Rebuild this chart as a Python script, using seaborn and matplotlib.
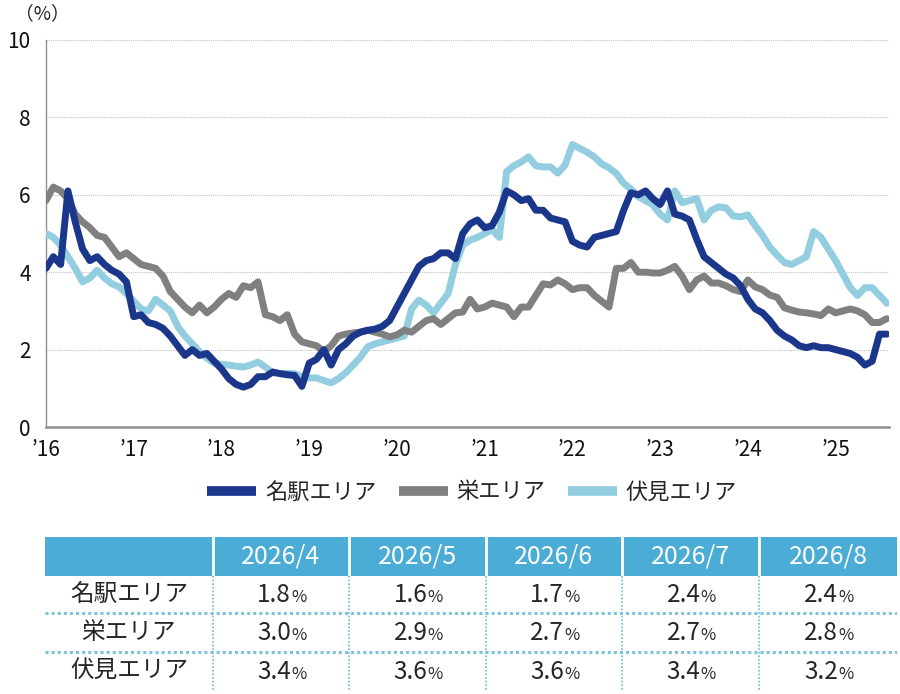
import numpy as np
import pandas as pd
import seaborn as sns
import matplotlib.pyplot as plt
from matplotlib.patches import Rectangle
from matplotlib.lines import Line2D

# エリア名と色
areas = ['名駅エリア', '栄エリア', '伏見エリア']
colors = ['#1B378C', '#808080', '#92CDE0']

# 月次の空室率 (2016年1月〜), 単位 %
meieki = [4.1, 4.4, 4.2, 6.1, 5.3, 4.6, 4.3, 4.4, 4.2, 4.05,
          3.95, 3.75, 2.85, 2.9, 2.7, 2.65, 2.55, 2.35, 2.1, 1.85,
          2.0, 1.85, 1.9, 1.7, 1.5, 1.25, 1.1, 1.03, 1.1, 1.3,
          1.3, 1.42, 1.38, 1.35, 1.33, 1.05, 1.65, 1.75, 2.0, 1.6,
          2.0, 2.15, 2.35, 2.45, 2.5, 2.53, 2.6, 2.75, 3.1, 3.45,
          3.8, 4.15, 4.3, 4.35, 4.5, 4.5, 4.35, 5.0, 5.25, 5.35,
          5.15, 5.2, 5.55, 6.1, 6.0, 5.85, 5.9, 5.6, 5.6, 5.4,
          5.35, 5.3, 4.8, 4.7, 4.65, 4.9, 4.95, 5.0, 5.05, 5.6,
          6.05, 6.0, 6.1, 5.9, 5.75, 6.1, 5.5, 5.45, 5.35, 4.85,
          4.4, 4.25, 4.1, 3.95, 3.85, 3.65, 3.3, 3.05, 2.95, 2.75,
          2.5, 2.35, 2.25, 2.1, 2.05, 2.1, 2.05, 2.05, 2.0, 1.95,
          1.9, 1.8, 1.6, 1.7, 2.4, 2.4]
sakae = [5.85, 6.2, 6.1, 5.9, 5.5, 5.3, 5.15, 4.95, 4.9, 4.65,
         4.4, 4.5, 4.35, 4.2, 4.15, 4.1, 3.9, 3.5, 3.3, 3.1,
         2.95, 3.15, 2.95, 3.1, 3.3, 3.45, 3.35, 3.65, 3.6, 3.75,
         2.9, 2.85, 2.75, 2.9, 2.4, 2.2, 2.15, 2.1, 1.95, 2.1,
         2.35, 2.4, 2.43, 2.45, 2.5, 2.45, 2.4, 2.33, 2.38, 2.5,
         2.45, 2.6, 2.75, 2.8, 2.65, 2.8, 2.95, 2.97, 3.3, 3.05,
         3.1, 3.2, 3.15, 3.1, 2.85, 3.1, 3.1, 3.4, 3.7, 3.67,
         3.8, 3.7, 3.55, 3.6, 3.6, 3.4, 3.25, 3.1, 4.1, 4.1,
         4.25, 4.0, 4.0, 3.98, 3.98, 4.05, 4.15, 3.9, 3.55, 3.8,
         3.9, 3.72, 3.72, 3.65, 3.55, 3.5, 3.8, 3.62, 3.55, 3.41,
         3.35, 3.08, 3.02, 2.97, 2.95, 2.92, 2.88, 3.05, 2.95, 3.0,
         3.05, 3.0, 2.9, 2.7, 2.7, 2.8]
fushimi = [5.0, 4.9, 4.7, 4.4, 4.1, 3.75, 3.85, 4.05, 3.85, 3.7,
           3.62, 3.45, 3.25, 3.05, 3.0, 3.3, 3.15, 3.0, 2.6, 2.35,
           2.15, 1.95, 1.78, 1.65, 1.62, 1.6, 1.57, 1.55, 1.6, 1.68,
           1.55, 1.4, 1.38, 1.38, 1.38, 1.3, 1.27, 1.27, 1.2, 1.14,
           1.25, 1.4, 1.6, 1.8, 2.07, 2.15, 2.2, 2.25, 2.3, 2.35,
           3.05, 3.28, 3.15, 2.95, 3.2, 3.45, 4.2, 4.7, 4.83, 4.9,
           5.0, 5.1, 4.9, 6.6, 6.75, 6.85, 6.98, 6.75, 6.72, 6.72,
           6.56, 6.77, 7.3, 7.2, 7.1, 6.98, 6.8, 6.7, 6.55, 6.3,
           6.15, 5.95, 5.85, 5.74, 5.5, 5.35, 6.1, 5.8, 5.85, 5.9,
           5.35, 5.6, 5.69, 5.66, 5.45, 5.43, 5.48, 5.2, 4.95, 4.65,
           4.44, 4.25, 4.2, 4.3, 4.4, 5.05, 4.9, 4.6, 4.3, 3.95,
           3.6, 3.4, 3.6, 3.6, 3.4, 3.2]

year_labels = ['’16', '’17', '’18', '’19', '’20', '’21', '’22', '’23', '’24', '’25']
table_months = ['2026/4', '2026/5', '2026/6', '2026/7', '2026/8']

#スタイル
sns.set_theme(style='white')
plt.rcParams['font.family'] = ['Noto Sans CJK JP', 'DejaVu Sans']

df = pd.DataFrame({'month': np.arange(len(meieki)),
                   '名駅エリア': meieki, '栄エリア': sakae, '伏見エリア': fushimi})
long = df.melt(id_vars='month', var_name='area', value_name='rate')

fig = plt.figure(figsize=(9, 6.94), dpi=100)
ax = fig.add_axes([46/900, 1-427/694, (889-46)/900, (427-40)/694])

sns.lineplot(data=long, x='month', y='rate', hue='area', hue_order=areas,
             palette=colors, linewidth=5.0, legend=False, ax=ax)
for ln, z in zip(ax.lines, [5, 4, 3]):
    ln.set_zorder(z)
    ln.set_solid_capstyle('round')
    ln.set_solid_joinstyle('round')

ax.set_xlim(0, 115.3)
ax.set_ylim(0, 10)
ax.set_yticks(range(0, 11, 2))
ax.set_xticks(range(0, 12 * len(year_labels), 12))
ax.set_xticklabels(year_labels)
ax.set_xlabel('')
ax.set_ylabel('')
ax.grid(axis='y', color='#C0C0C0', linestyle=(0, (1, 1)), linewidth=0.8)
for s in ['top', 'right']:
    ax.spines[s].set_visible(False)
ax.spines['left'].set_color('#909090')
ax.spines['left'].set_linewidth(1.0)
ax.spines['bottom'].set_color('#909090')
ax.spines['bottom'].set_linewidth(1.8)
ax.tick_params(axis='both', length=0, labelsize=15, colors='#111111')
ax.tick_params(axis='y', pad=11)
ax.tick_params(axis='x', pad=9)

fig.text(42/900, 1-14/694, '（%）', ha='center', va='center', fontsize=13.5)

#凡例
handles = [Line2D([0], [0], color=c, lw=7, solid_capstyle='butt') for c in colors]
ax.legend(handles, areas, loc='center', bbox_to_anchor=(472/900, 1-492/694),
          bbox_transform=fig.transFigure, ncol=3, frameon=False, fontsize=16,
          handlelength=2.2, handletextpad=0.4, columnspacing=1.0)

#表
tax = fig.add_axes([45/900, 1-690/694, (897-45)/900, (690-537)/694])
tax.set_xlim(45, 897)
tax.set_ylim(690, 537)
tax.axis('off')
col_edges = [45, 213, 349, 486, 622, 759, 897]
row_edges = [537, 576, 613, 652, 690]
header_c = '#4BACD6'
line_c = '#7EC3DD'

tax.add_patch(Rectangle((45, 537), 852, 39, fc=header_c, ec='none'))
for x in col_edges[1:-1]:
    tax.plot([x, x], [537, 576], color='white', lw=2)
    tax.plot([x, x], [576, 690], color=line_c, lw=1.3, linestyle=(0, (1, 1)))
for y in row_edges[2:-1]:
    tax.plot([45, 897], [y, y], color=line_c, lw=2.2, linestyle=(0, (1, 1)))

for j, m in enumerate(table_months):
    cx = (col_edges[j + 1] + col_edges[j + 2]) / 2
    tax.text(cx, 556, m, ha='center', va='center', fontsize=18, color='white')

series = [meieki, sakae, fushimi]
for i, (name, vals) in enumerate(zip(areas, series)):
    cy = (row_edges[i + 1] + row_edges[i + 2]) / 2
    tax.text((col_edges[0] + col_edges[1]) / 2, cy, name, ha='center', va='center', fontsize=17)
    for j, v in enumerate(vals[-5:]):
        cx = (col_edges[j + 1] + col_edges[j + 2]) / 2
        tax.text(cx + 10, cy + 8, f'{v:.1f}', ha='right', va='baseline', fontsize=17.5)
        tax.text(cx + 10, cy + 8, '%', ha='left', va='baseline', fontsize=12)

fig.savefig('out.png', dpi=100)
